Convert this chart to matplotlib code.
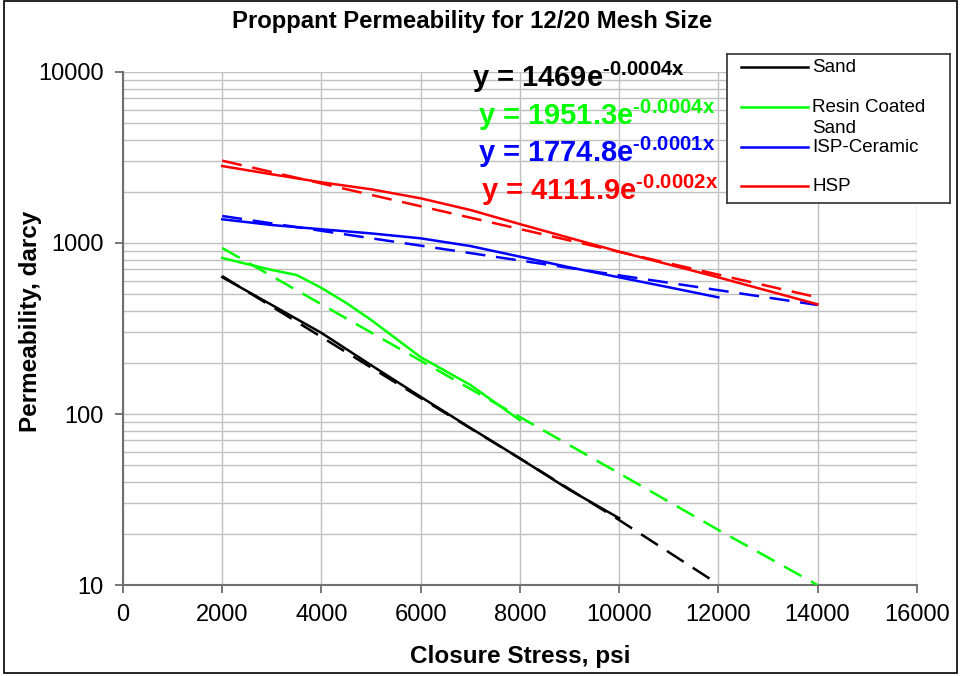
import numpy as np
import matplotlib.pyplot as plt
from matplotlib.lines import Line2D
from matplotlib.patches import Rectangle
from matplotlib.ticker import FixedLocator, LogLocator, NullFormatter

plt.rcParams['font.family'] = ['Liberation Sans', 'DejaVu Sans']
plt.rcParams['mathtext.fontset'] = 'custom'
plt.rcParams['mathtext.bf'] = 'Liberation Sans:bold'
plt.rcParams['mathtext.rm'] = 'Liberation Sans:bold'
plt.rcParams['mathtext.default'] = 'bf'

# measured points (closure stress psi, permeability darcy)
sand_x = [2000, 3000, 4000, 5000, 6000, 7000, 8000, 9000, 10000]
sand_y = [631, 434, 298, 193, 126, 83, 55, 36, 24.6]

rcs_x = [2000, 3000, 3500, 4000, 4500, 5000, 6000, 7000, 8000]
rcs_y = [817, 695, 650, 546, 446, 355, 215, 148, 92]

isp_x = [2000, 3000, 4000, 5000, 6000, 7000, 8000, 9000, 10000, 11000, 12000]
isp_y = [1376, 1274, 1203, 1138, 1065, 960, 832, 721, 630, 551, 481]

hsp_x = [2000, 3000, 4000, 5000, 6000, 7000, 8000, 10000, 12000, 14000]
hsp_y = [2818, 2522, 2264, 2061, 1825, 1560, 1290, 890, 630, 438]

# exponential trendlines
trend_x = [2000, 4000, 6000, 8000, 10000, 12000, 14000]
sand_trend = [640, 282, 124, 55, 24, 10.1]
rcs_trend = [935, 438, 205, 96, 45, 21, 10]
isp_trend = [1439, 1178, 965, 790, 647, 530, 434]
hsp_trend = [3030, 2229, 1640, 1207, 888, 653, 481]

names = ['Sand', 'Resin Coated\nSand', 'ISP-Ceramic', 'HSP']
colors = ['#000000', '#00ff00', '#0000ff', '#ff0000']
equations = ['y = 1469e$^{\\text{-}0.0004x}$', 'y = 1951.3e$^{\\text{-}0.0004x}$',
             'y = 1774.8e$^{\\text{-}0.0001x}$', 'y = 4111.9e$^{\\text{-}0.0002x}$']

data = [(sand_x, sand_y), (rcs_x, rcs_y), (isp_x, isp_y), (hsp_x, hsp_y)]
trends = [sand_trend, rcs_trend, isp_trend, hsp_trend]

fig = plt.figure(figsize=(9.65, 6.76), dpi=100)
ax = fig.add_axes([0.1275, 0.1346, 0.8225, 0.7589])

for (x, y), tr, c in zip(data, trends, colors):
    ax.plot(x, y, color=c, lw=1.8, zorder=3)
    ax.plot(trend_x[:len(tr)], tr, color=c, lw=1.8, dashes=(8, 4.3), zorder=3)

ax.set_yscale('log')
ax.set_xlim(0, 16000)
ax.set_ylim(10, 10000)
ax.xaxis.set_major_locator(FixedLocator(np.arange(0, 16001, 2000)))
ax.yaxis.set_major_locator(FixedLocator([10, 100, 1000, 10000]))
ax.yaxis.set_minor_locator(LogLocator(base=10, subs=np.arange(2, 10)))
ax.yaxis.set_minor_formatter(NullFormatter())
ax.set_yticklabels(['10', '100', '1000', '10000'])

ax.grid(True, which='major', color='#c0c0c0', lw=1)
ax.grid(True, which='minor', axis='y', color='#c0c0c0', lw=1)
ax.set_axisbelow(True)
ax.tick_params(which='major', length=6, width=1.2, color='#606060',
               labelsize=17, direction='out', pad=8)
ax.tick_params(which='minor', length=0)
for s in ['top', 'right']:
    ax.spines[s].set_visible(False)
for s in ['left', 'bottom']:
    ax.spines[s].set_color('#707070')
    ax.spines[s].set_linewidth(1.5)

ax.set_xlabel('Closure Stress, psi', fontsize=17.5, fontweight='bold', labelpad=13)
ax.set_ylabel('Permeability, darcy', fontsize=17.5, fontweight='bold')
ax.yaxis.set_label_coords(-0.102, 0.513)
fig.text(0.489, 0.968, 'Proppant Permeability for 12/20 Mesh Size',
         ha='center', va='center', fontsize=17.2, fontweight='bold')

# trendline equations
eq_pos = [(0.489, 0.886), (0.495, 0.830), (0.495, 0.775), (0.498, 0.719)]
for (ex, ey), eq, c in zip(eq_pos, equations, colors):
    fig.text(ex, ey, eq, color=c, fontsize=21, fontweight='bold', va='center')

# legend box
lax = fig.add_axes([0.7534, 0.6997, 0.2311, 0.2204])
lax.set_xlim(0, 223)
lax.set_ylim(149, 0)
lax.set_xticks([])
lax.set_yticks([])
for s in lax.spines.values():
    s.set_color('#303030')
    s.set_linewidth(1.2)
rows = [13, 53, 93, 132]
for ry, name, c in zip(rows, names, colors):
    lax.add_line(Line2D([14, 81], [ry, ry], color=c, lw=1.8))
    lax.text(85, ry - 8, name, fontsize=13.5, va='top', ha='left', linespacing=1.3)

fig.patches.append(Rectangle((0.004, 0.004), 0.988, 0.994, transform=fig.transFigure,
                             fill=False, edgecolor='black', lw=1.2))

fig.savefig('out.png', dpi=100)
